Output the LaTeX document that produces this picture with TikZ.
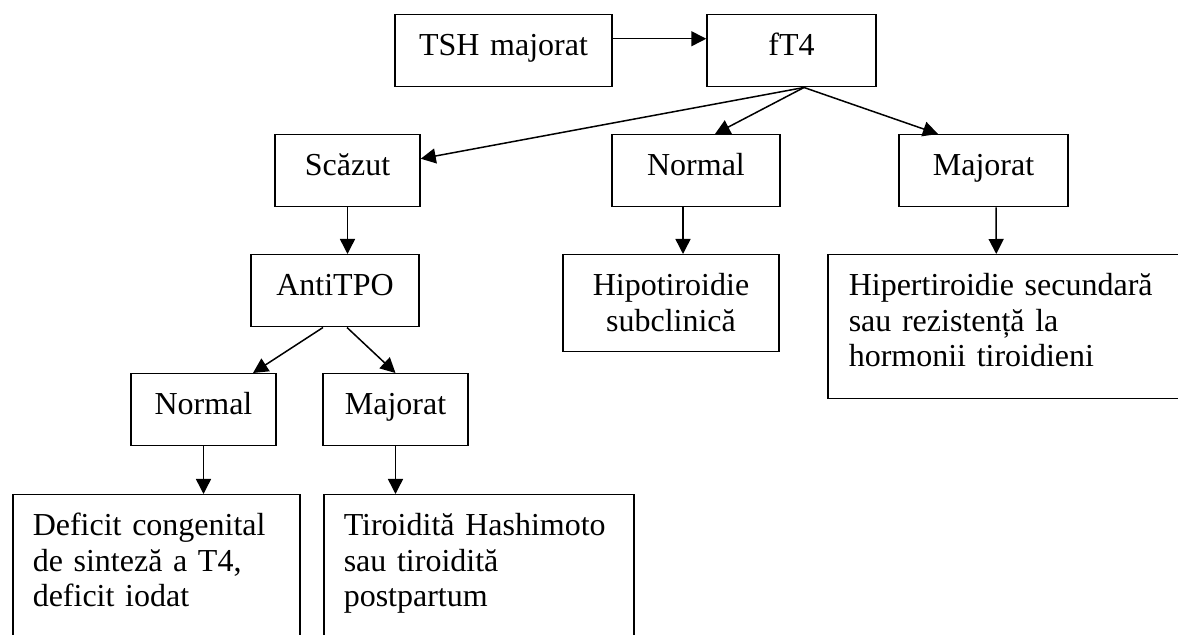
\documentclass[tikz,border=0pt]{standalone}
\usepackage{fontspec}
\setmainfont{Liberation Serif}
\usetikzlibrary{arrows.meta}

\begin{document}
\begin{tikzpicture}[x=0.5pt, y=-0.5pt, >={Triangle[length=7.5pt, width=7.5pt]},
  every node/.style={font=\fontsize{16pt}{17.8pt}\selectfont},
  box/.style={draw, line width=0.75pt, anchor=north, text width=#1, align=center,
    inner xsep=0pt, inner ysep=9.7pt, text height=10.8pt, text depth=5.8pt},
  leftbox/.style={draw, line width=0.75pt, anchor=north west, text width=#1, align=left,
    inner xsep=10pt, inner ysep=9.7pt, text height=10.8pt, text depth=70pt},
  link/.style={->, line width=0.75pt}]
  \useasboundingbox (0,0) rectangle (1178,635);
  \clip (0,0) rectangle (1178,635);

  % TSH and fT4
  \node[box=108.5pt] (tsh) at (503.5,14) {TSH majorat};
  \node[box=84.5pt] (ft4) at (791.5,14) {fT4};

  % fT4 results
  \node[box=72.5pt] (scz) at (347.5,134) {Scăzut};
  \node[box=84pt] (nrm) at (696,134) {Normal};
  \node[box=84.5pt] (maj) at (983.5,134) {Majorat};

  \node[box=84pt] (anti) at (335,254) {AntiTPO};
  \node[box=108pt, text depth=18.3pt] (hipo) at (671,254) {Hipotiroidie\\ subclinică};
  \node[leftbox=166.5pt, inner xsep=10.5pt, text depth=41.8pt] (hiper) at (827,254)
    {Hipertiroidie secundară\\ sau rezistență la\\ hormonii tiroidieni};

  % AntiTPO results
  \node[box=72.5pt] (nrmb) at (203.5,373) {Normal};
  \node[box=72.5pt] (majb) at (395.5,373) {Majorat};

  \node[leftbox=123.5pt] (def) at (12,494) {Deficit congenital\\ de sinteză a T4,\\ deficit iodat};
  \node[leftbox=135pt] (tir) at (323,494) {Tiroidită Hashimoto\\ sau tiroidită\\ postpartum};

  \draw[link] ([yshift=6pt]tsh.east) -- ([yshift=6pt]tsh.east -| ft4.west);
  \draw[link] ([xshift=6.25pt]ft4.south) -- ([yshift=6pt]scz.east);
  \draw[link] ([xshift=6.25pt]ft4.south) -- ([xshift=9.5pt]nrm.north);
  \draw[link] ([xshift=6.25pt]ft4.south) -- ([xshift=-22.75pt]maj.north);

  \draw[link] (scz.south) -- (scz.south |- anti.north);
  \draw[link] ([xshift=-6.5pt]nrm.south) -- ([xshift=6pt]hipo.north);
  \draw[link] ([xshift=6.25pt]maj.south) -- ([xshift=-9.5pt]hiper.north);

  \draw[link] ([xshift=-6pt]anti.south) -- ([xshift=24.75pt]nrmb.north);
  \draw[link] ([xshift=6pt]anti.south) -- (majb.north);
  \draw[link] (nrmb.south) -- (nrmb.south |- def.north);
  \draw[link] (majb.south) -- (majb.south |- tir.north);
\end{tikzpicture}
\end{document}
